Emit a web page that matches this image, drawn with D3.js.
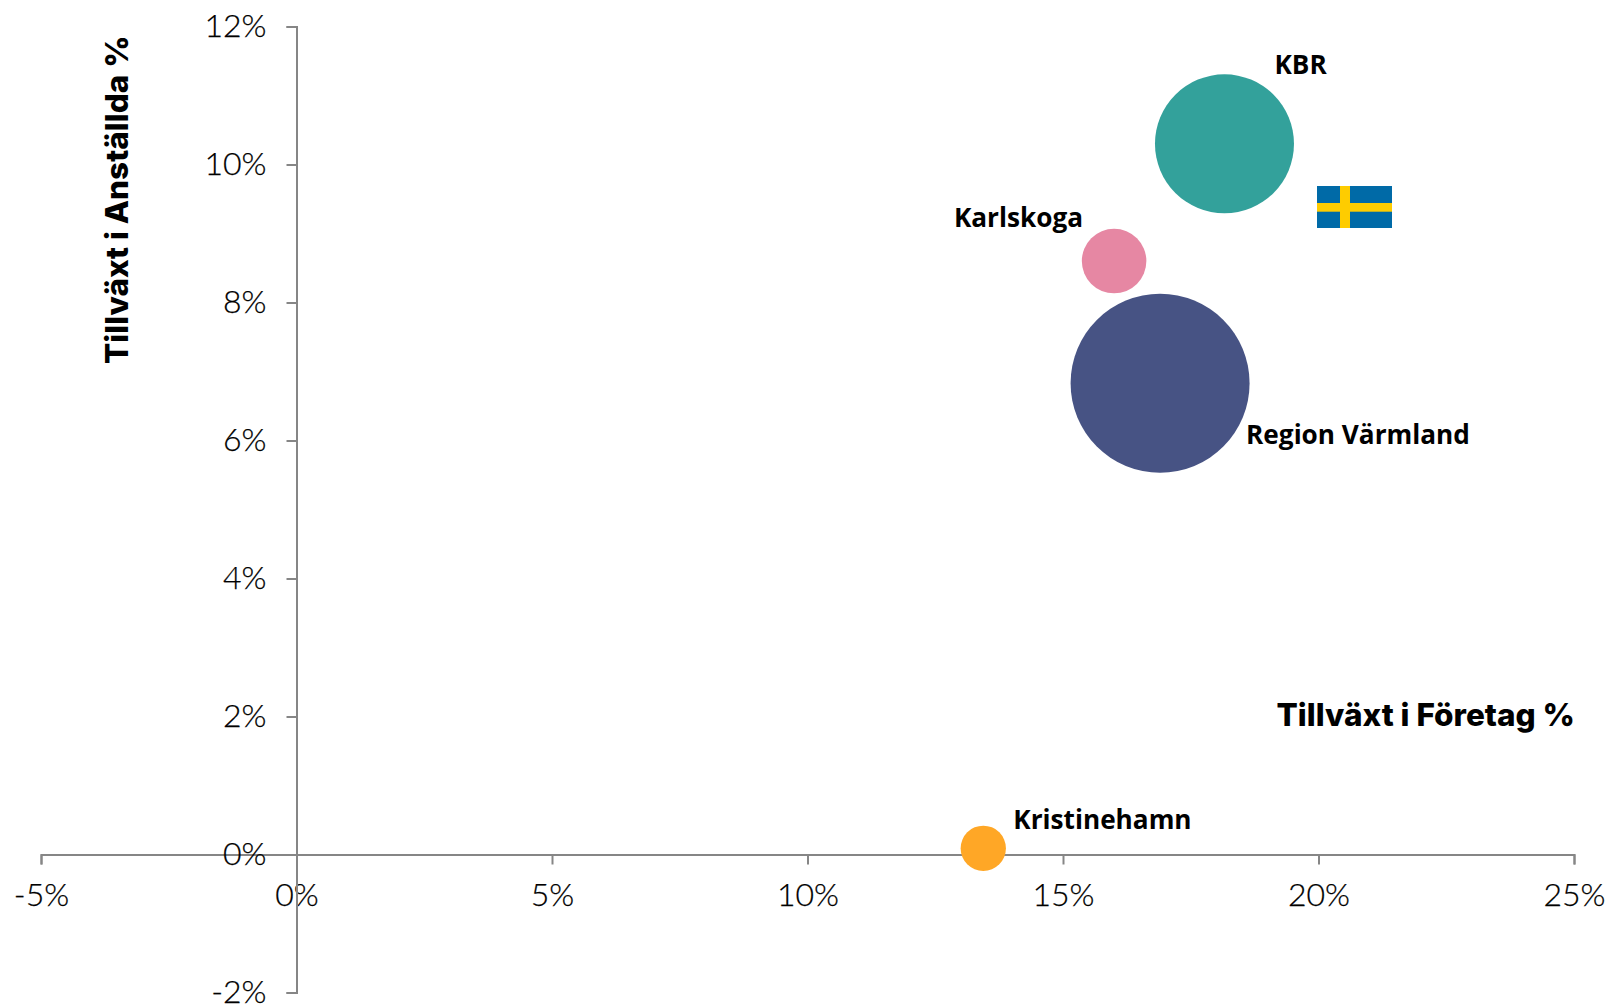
<!DOCTYPE html>
<html><head><meta charset="utf-8">
<script src="https://cdn.jsdelivr.net/npm/d3@7"></script>
<style>
html,body{margin:0;padding:0;background:#fff}
svg{display:block}
.tick text{font-family:Lato,sans-serif;font-weight:300;font-size:32px;fill:#000;stroke:#000;stroke-width:.25px}
.lbl{font-family:"Open Sans",sans-serif;font-weight:700;font-size:26.2px;fill:#000}
.ttl{font-family:Inter,sans-serif;font-weight:800;font-size:31.5px;fill:#000}
</style></head><body>
<svg id="c" width="1613" height="1005"></svg>
<script>
const names=["KBR","Karlskoga","Region Värmland","Kristinehamn"];
const growthCompanies=[18.16,16.0,16.9,13.44];
const growthEmployees=[10.30,8.60,6.83,0.09];
const sizes=[60.3,13.0,100,6.4];
const colors=["#33A19B","#E687A3","#475384","#FFA726"];
const xTicks=[-5,0,5,10,15,20,25];
const yTicks=[-2,0,2,4,6,8,10,12];

const svg=d3.select("#c");
const x=d3.scaleLinear().domain([-5,25]).range([41,1574]);
const y=d3.scaleLinear().domain([-2,12]).range([992.5,26.5]);
const r=d3.scaleSqrt().domain([0,100]).range([0,89.5]);
const pct=d=>d+"%";

function style(g){
  g.selectAll(".domain,.tick line").attr("stroke","#868686").attr("stroke-width",2);
}
const gx=svg.append("g").attr("transform",`translate(0,${y(0)})`)
  .call(d3.axisBottom(x).tickValues(xTicks).tickFormat(pct).tickSize(10).tickSizeOuter(10).tickPadding(19));
gx.call(style);
const gy=svg.append("g").attr("transform",`translate(${x(0)},0)`)
  .call(d3.axisLeft(y).tickValues(yTicks).tickFormat(pct).tickSize(10).tickSizeOuter(10).tickPadding(20));
gy.call(style);

const idx=d3.range(names.length);
svg.append("g").selectAll("circle").data(idx).join("circle")
  .attr("cx",i=>x(growthCompanies[i])).attr("cy",i=>y(growthEmployees[i]))
  .attr("r",i=>r(sizes[i])).attr("fill",i=>colors[i]);

const labelDx=[50,-31,86,30], labelDy=[-70,-34,61,-19.5], labelAnchor=["start","end","start","start"];
svg.append("g").selectAll("text").data(idx).join("text").attr("class","lbl")
  .attr("x",i=>x(growthCompanies[i])+labelDx[i]).attr("y",i=>y(growthEmployees[i])+labelDy[i])
  .attr("text-anchor",i=>labelAnchor[i]).text(i=>names[i]);

svg.append("text").attr("class","ttl").attr("x",1575).attr("y",725.5).attr("text-anchor","end").text("Tillväxt i Företag %");
svg.append("text").attr("class","ttl").attr("transform","translate(128,364) rotate(-90)").text("Tillväxt i Anställda %");

const flag=svg.append("g");
flag.append("rect").attr("x",1317).attr("y",186).attr("width",75).attr("height",42).attr("fill","#006AA7");
flag.append("rect").attr("x",1340).attr("y",186).attr("width",10).attr("height",42).attr("fill","#FECC00");
flag.append("rect").attr("x",1317).attr("y",203).attr("width",75).attr("height",8.7).attr("fill","#FECC00");
</script></body></html>
